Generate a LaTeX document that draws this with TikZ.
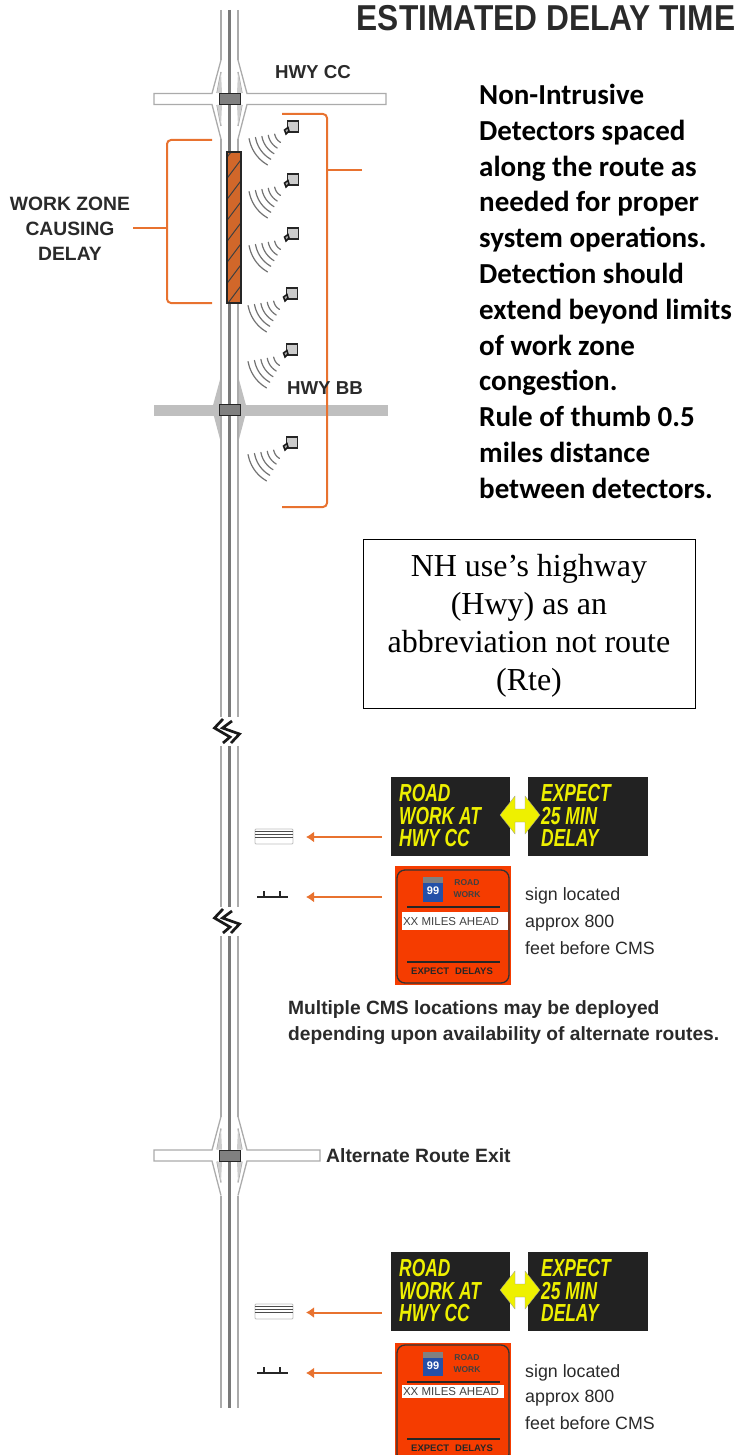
\documentclass[tikz,border=0pt]{standalone}
\usepackage{fontspec}
\usepackage{graphicx}
\setmainfont{Liberation Sans}
\newfontfamily\carlito{Carlito}
\newfontfamily\timesf{Liberation Serif}
\usetikzlibrary{arrows.meta}
\definecolor{orangeln}{HTML}{E8722F}
\definecolor{roadgray}{HTML}{ABABAB}
\definecolor{darkroad}{HTML}{7A7A7A}
\definecolor{txtdark}{HTML}{2A2A2A}
\definecolor{signor}{HTML}{F53C00}
\definecolor{cmsbg}{HTML}{222222}
\definecolor{cmsyel}{HTML}{EEF000}
\definecolor{shield}{HTML}{2450A8}
\newcommand{\fs}[1]{\fontsize{#1}{#1}\selectfont}
\newcommand{\cmsfit}[1]{\scalebox{.79}[1.12]{#1}}
\tikzset{
  roadline/.style={draw=roadgray,line width=1.5pt},
  roadmid/.style={draw=darkroad,line width=2.2pt},
  ramp/.style={draw=roadgray,line width=1.3pt},
  crossbox/.style={draw=black!85,fill=black!50,line width=1pt},
  brack/.style={draw=orangeln,line width=2pt,rounded corners=4pt},
  brackstem/.style={draw=orangeln,line width=2pt},
  arrowor/.style={draw=orangeln,line width=2pt,-{Latex[length=8pt,width=11pt]}},
  lab/.style={text=txtdark,font=\bfseries\fs{18.7},inner sep=0pt},
  signtxt/.style={text=txtdark,font=\fs{17.8},inner sep=0pt,anchor=west},
  cmstxt/.style={text=cmsyel,font=\bfseries\itshape\fs{22},inner sep=0pt,anchor=west},
  arc1/.style={draw=black!55,line width=1.2pt,line cap=round}
}
\newcommand{\detector}[2]{%
  \foreach \r in {12,18.5,25,31.5,38}{
    \draw[arc1] plot[domain=10:60,samples=7,smooth,variable=\t]
      ({#1-6.5-\r*cos(\t)},{#2+5+\r*sin(\t)});
  }
  \draw[draw=black!85,fill=black!20,line width=1.1pt] (#1-5.5,#2-6) rectangle (#1+5.5,#2+5);
  \draw[draw=black!90,fill=black!35,line width=1.5pt] (#1-8.5,#2+3) -- (#1-5,#2+.5) -- (#1-4,#2+4) -- (#1-7,#2+7) -- cycle;
}
\newcommand{\openinter}[3]{% y, xmin, xmax
  \fill[white] (219.7,#1-39) rectangle (222.3,#1-6);
  \fill[white] (236.7,#1-39) rectangle (239.3,#1-6);
  \fill[white] (219.7,#1+6) rectangle (222.3,#1+40);
  \fill[white] (236.7,#1+6) rectangle (239.3,#1+40);
  \fill[white] (212,#1-5.5) rectangle (247,#1+5.5);
  \draw[ramp] (221,#1-39) -- (212,#1-5.5) -- (#2,#1-5.5) -- (#2,#1+5.5) -- (212,#1+5.5) -- (221,#1+40);
  \draw[ramp] (238,#1-39) -- (247,#1-5.5) -- (#3,#1-5.5) -- (#3,#1+5.5) -- (247,#1+5.5) -- (238,#1+40);
  \draw[ramp] (221,#1-27) -- (217,#1-6) (238,#1-27) -- (242,#1-6) (221,#1+27) -- (217,#1+6) (238,#1+27) -- (242,#1+6);
  \fill[roadgray!60] (221,#1-27) -- (217,#1-6) -- (222,#1-6) -- cycle;
  \fill[roadgray!60] (238,#1-27) -- (242,#1-6) -- (237,#1-6) -- cycle;
  \fill[roadgray!60] (221,#1+27) -- (217,#1+6) -- (222,#1+6) -- cycle;
  \fill[roadgray!60] (238,#1+27) -- (242,#1+6) -- (237,#1+6) -- cycle;
  \draw[crossbox] (219,#1-5.5) rectangle (240,#1+5.5);
}
\newcommand{\zigzag}[1]{%
  \fill[white] (212,#1-15) rectangle (244,#1+14);
  \draw[black!90,line width=2.7pt,line join=miter] (223,#1-13) -- (214.5,#1-4) -- (230,#1+5) -- (223,#1+11);
  \draw[black!90,line width=2.7pt,line join=miter] (232,#1-11) -- (222.5,#1-4) -- (239.5,#1+2) -- (231,#1+11);
}
\newcommand{\cmsicon}[1]{%
  \draw[draw=black!25,fill=white,line width=.8pt,rounded corners=1pt] (255,#1) rectangle (293,#1+15);
  \draw[black!70,line width=1.1pt] (255,#1+2.5) -- (293,#1+2.5) (255,#1+5.5) -- (293,#1+5.5) (255,#1+8.5) -- (293,#1+8.5);
}
\newcommand{\mount}[1]{%
  \draw[black!85,line width=1.8pt] (257,#1) -- (288,#1) (264,#1) -- (264,#1-6) (280,#1) -- (280,#1-6);
}
\newcommand{\cmspair}[1]{%
  \fill[cmsbg] (391,#1) rectangle (510,#1+79);
  \fill[cmsbg] (528,#1) rectangle (648,#1+79);
  \fill[cmsyel,draw=black!40,line width=.3pt] (500,#1+38) -- (515,#1+19) -- (515,#1+32) -- (525,#1+32) -- (525,#1+19) -- (540,#1+38) -- (525,#1+57) -- (525,#1+45) -- (515,#1+45) -- (515,#1+57) -- cycle;
}
\begin{document}
\begin{tikzpicture}[x=1pt,y=-1pt]
\useasboundingbox (0,0) rectangle (737,1455);
% main road
\foreach \x in {221,238}{
  \draw[roadline] (\x,10) -- (\x,1408);
}
\draw[roadmid] (229.5,10) -- (229.5,1408);
\fill[white] (224,152) rectangle (244,303);
% interchanges
\openinter{99}{154}{386}
\fill[white] (212,404) rectangle (247,415);
\fill[gray!50] (154,404.5) rectangle (388,415.5);
\fill[gray!50] (221,376) -- (212,409) -- (221,443) -- cycle;
\fill[gray!50] (238,376) -- (247,409) -- (238,443) -- cycle;
\draw[roadline] (221,376) -- (221,443) (238,376) -- (238,443);
\draw[crossbox] (219,404) rectangle (240,415);
\openinter{1155.5}{154}{320}
% work zone
\begin{scope}
  \clip (227,152) rectangle (241,303);
  \fill[fill=orangeln!90!black] (227,152) rectangle (241,303);
  \foreach \y in {160,181,...,330}{
    \draw[black!75,line width=1pt] (225,\y) -- (243,\y-24);
  }
\end{scope}
\draw[black!85,line width=1.2pt] (227,152) rectangle (241,303);
% detectors
\detector{293}{127}
\detector{293}{180}
\detector{293}{234}
\detector{292}{294}
\detector{292}{350}
\detector{292}{443}
% brackets
\coordinate (bl1) at (212,140);
\coordinate (bl2) at (212,303);
\coordinate (blm) at (133,228);
\coordinate (br1) at (282,114);
\coordinate (br2) at (282,507);
\coordinate (brm) at (362,170);
\draw[brack] (bl1) -- (167,140) -- (167,303) -- (bl2);
\draw[brackstem] (blm) -- (166,228);
\draw[brack] (br1) -- (327,114) -- (327,507) -- (br2);
\draw[brackstem] (brm) -- (328,170);
% labels
\node[lab,font=\bfseries\fs{36}] (title) at (546,18) {\scalebox{.88}[1]{ESTIMATED DELAY TIME}};
\node[lab] (cc) at (313,72) {HWY CC};
\node[lab] (bb) at (325,388) {HWY BB};
\node[lab,font=\bfseries\fs{19.3}] (wz1) at (70,204) {WORK ZONE};
\node[lab,font=\bfseries\fs{19.3}] (wz2) at (70,229) {CAUSING};
\node[lab,font=\bfseries\fs{19.3}] (wz3) at (70,254) {DELAY};
\node[inner sep=0pt,anchor=north west,align=left,text=black,font=\carlito\bfseries\fontsize{29}{35.8}\selectfont] (para) at (479,84) {Non-Intrusive\\Detectors spaced\\along the route as\\needed for proper\\system operations.\\Detection should\\extend beyond limits\\of work zone\\congestion.\\Rule of thumb 0.5\\miles distance\\between detectors.};
\node[draw=black,line width=.9pt,minimum width=332pt,minimum height=169pt,anchor=north west,inner sep=0pt] (box) at (363,539) {};
\node[inner sep=0pt,align=center,font=\timesf\fontsize{32}{38}\selectfont] (boxt) at (529,626) {NH use’s highway\\(Hwy) as an\\abbreviation not route\\(Rte)};
% breaks
\zigzag{732}
\zigzag{922}
% first CMS group
\cmspair{777}
\node[cmstxt] (a1) at (399,793) {\cmsfit{ROAD}};
\node[cmstxt] (a2) at (399,816) {\cmsfit{WORK AT}};
\node[cmstxt] (a3) at (399,838) {\cmsfit{HWY CC}};
\node[cmstxt] (b1) at (541,793) {\cmsfit{EXPECT}};
\node[cmstxt] (b2) at (541,816) {\cmsfit{25 MIN}};
\node[cmstxt] (b3) at (541,838) {\cmsfit{DELAY}};
\cmsicon{829}
\mount{897}
\coordinate (ca1) at (382,837);
\coordinate (ca2) at (306,837);
\coordinate (ca3) at (382,897);
\coordinate (ca4) at (306,897);
\draw[arrowor] (ca1) -- (ca2);
\draw[arrowor] (ca3) -- (ca4);
% orange sign 1
\fill[signor] (395,866) rectangle (511,985);
\draw[black!80,line width=1.3pt,rounded corners=8pt] (397,870) rectangle (509,983);
\fill[shield] (423,877) rectangle (443,902);
\fill[black!50] (423,877) rectangle (443,883);
\node[inner sep=0pt,text=white,font=\bfseries\fs{11}] (s1) at (433,891) {99};
\node[inner sep=0pt,text=black!75,font=\bfseries\fs{8.5}] (s2) at (467,883) {ROAD};
\node[inner sep=0pt,text=black!75,font=\bfseries\fs{8.5}] (s3) at (467,895) {WORK};
\draw[black!85,line width=1.2pt] (407,907) -- (500,907) (407,962) -- (500,962);
\fill[white] (402,912) rectangle (508,930);
\node[inner sep=0pt,text=black!75,font=\fs{11.5}] (s4) at (451,922) {XX MILES AHEAD};
\node[inner sep=0pt,text=black!85,font=\bfseries\fs{9.5}] (s5) at (452,971) {EXPECT\hspace{6pt}DELAYS};
\node[signtxt] (t1) at (525,896) {sign located};
\node[signtxt] (t2) at (525,923) {approx 800};
\node[signtxt] (t3) at (525,948) {feet before CMS};
\node[lab,anchor=west,font=\bfseries\fs{19.2}] (m1) at (288,1010) {Multiple CMS locations may be deployed};
\node[lab,anchor=west,font=\bfseries\fs{19.2}] (m2) at (288,1036) {depending upon availability of alternate routes.};
\node[lab,anchor=west,font=\bfseries\fs{19.3}] (alt) at (326,1156) {Alternate Route Exit};
% second CMS group
\cmspair{1252}
\node[cmstxt] (c1) at (399,1268) {\cmsfit{ROAD}};
\node[cmstxt] (c2) at (399,1291) {\cmsfit{WORK AT}};
\node[cmstxt] (c3) at (399,1313) {\cmsfit{HWY CC}};
\node[cmstxt] (d1) at (541,1268) {\cmsfit{EXPECT}};
\node[cmstxt] (d2) at (541,1291) {\cmsfit{25 MIN}};
\node[cmstxt] (d3) at (541,1313) {\cmsfit{DELAY}};
\cmsicon{1304}
\mount{1373}
\coordinate (da1) at (382,1312.5);
\coordinate (da2) at (306,1312.5);
\coordinate (da3) at (382,1373);
\coordinate (da4) at (306,1373);
\draw[arrowor] (da1) -- (da2);
\draw[arrowor] (da3) -- (da4);
% orange sign 2
\fill[signor] (395,1343) rectangle (511,1455);
\draw[black!80,line width=1.3pt,rounded corners=8pt] (397,1345) rectangle (509,1462);
\fill[shield] (423,1352) rectangle (443,1376);
\fill[black!50] (423,1352) rectangle (443,1358);
\node[inner sep=0pt,text=white,font=\bfseries\fs{11}] (u1) at (433,1366) {99};
\node[inner sep=0pt,text=black!75,font=\bfseries\fs{8.5}] (u2) at (467,1358) {ROAD};
\node[inner sep=0pt,text=black!75,font=\bfseries\fs{8.5}] (u3) at (467,1370) {WORK};
\draw[black!85,line width=1.2pt] (407,1382) -- (500,1382) (407,1439) -- (500,1439);
\fill[white] (402,1385) rectangle (504,1398);
\node[inner sep=0pt,text=black!75,font=\fs{11.5}] (u4) at (451,1392) {XX MILES AHEAD};
\node[inner sep=0pt,text=black!85,font=\bfseries\fs{9.5}] (u5) at (452,1448) {EXPECT\hspace{6pt}DELAYS};
\node[signtxt] (v1) at (525,1373) {sign located};
\node[signtxt] (v2) at (525,1398) {approx 800};
\node[signtxt] (v3) at (525,1423) {feet before CMS};
\end{tikzpicture}
\end{document}
